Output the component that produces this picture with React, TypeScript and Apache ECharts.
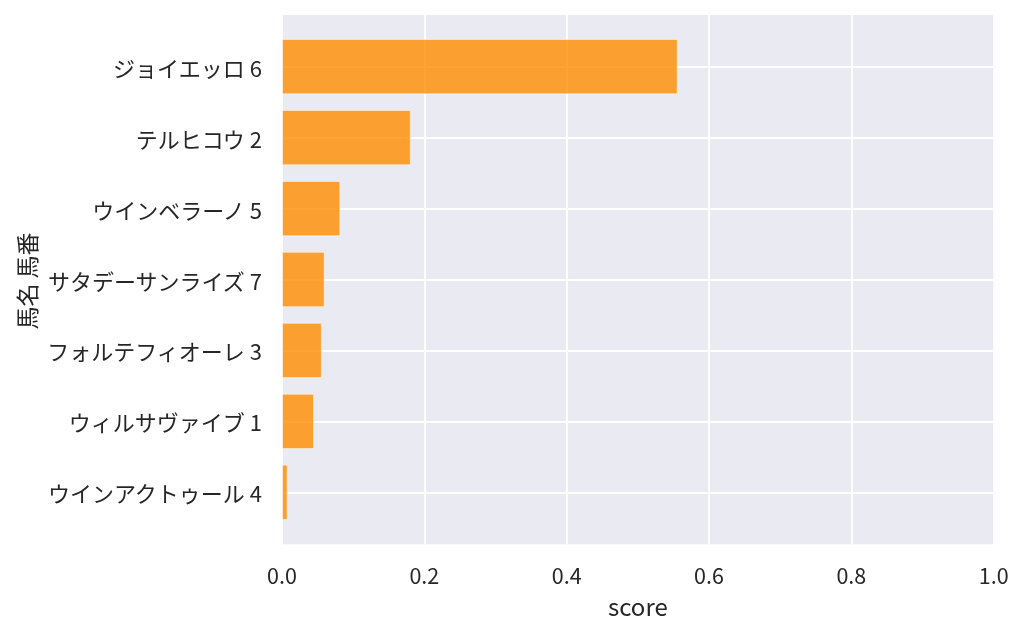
import React, { useEffect, useRef } from "react";
import * as echarts from "echarts";

const horseLabels = [
  "ジョイエッロ 6",
  "テルヒコウ 2",
  "ウインベラーノ 5",
  "サタデーサンライズ 7",
  "フォルテフィオーレ 3",
  "ウィルサヴァイブ 1",
  "ウインアクトゥール 4",
];
const scores = [0.556, 0.181, 0.082, 0.06, 0.056, 0.045, 0.008];
const xTicks = [0, 0.2, 0.4, 0.6, 0.8, 1.0];

const FONT = "Noto Sans CJK JP";
const TEXT = "#262626";

export default function App() {
  const ref = useRef<HTMLDivElement>(null);
  useEffect(() => {
    document.body.style.margin = "0";
    const chart = echarts.init(ref.current!, null, { renderer: "svg" });
    const left = 282;
    const right = 30.3;
    chart.setOption({
      animation: false,
      textStyle: { fontFamily: FONT, color: TEXT },
      grid: [
        {
          left,
          right,
          top: 15,
          bottom: 89.7,
          show: true,
          backgroundColor: "#EAEAF2",
          borderWidth: 0,
        },
        {
          left,
          right,
          top: 66.7,
          bottom: 634 - 492.3,
          show: false,
        },
      ],
      xAxis: [
        {
          type: "value",
          gridIndex: 0,
          min: 0,
          max: 1,
          interval: 0.2,
          axisLine: { show: false },
          axisTick: { show: false },
          splitLine: { show: true, lineStyle: { color: "#ffffff", width: 1.8 } },
          axisLabel: {
            fontFamily: FONT,
            fontSize: 21.5,
            color: TEXT,
            margin: 19,
            formatter: (v: number) => {
              const t = xTicks.find((x) => Math.abs(x - v) < 1e-9);
              return (t ?? v).toFixed(1);
            },
          },
          name: "score",
          nameLocation: "middle",
          nameGap: 49,
          nameTextStyle: { fontFamily: FONT, fontSize: 24, color: TEXT },
        },
        {
          type: "value",
          gridIndex: 1,
          min: 0,
          max: 1,
          show: false,
          splitLine: { show: false },
        },
      ],
      yAxis: [
        {
          type: "value",
          gridIndex: 0,
          min: 0,
          max: 1,
          show: false,
          splitLine: { show: false },
        },
        {
          type: "category",
          gridIndex: 1,
          data: horseLabels,
          inverse: true,
          boundaryGap: false,
          axisLine: { show: false },
          axisTick: { show: false },
          splitLine: { show: true, lineStyle: { color: "#ffffff", width: 1.8 } },
          axisLabel: {
            fontFamily: FONT,
            fontSize: 22,
            color: TEXT,
            margin: 20,
          },
        },
      ],
      graphic: [
        {
          type: "text",
          x: 26,
          y: 281,
          rotation: Math.PI / 2,
          style: {
            text: "馬名 馬番",
            fontFamily: FONT,
            fontSize: 23,
            fill: TEXT,
            align: "center",
            verticalAlign: "middle",
          },
        },
      ],
      series: [
        {
          type: "bar",
          xAxisIndex: 1,
          yAxisIndex: 1,
          data: scores,
          barWidth: "78%",
          clip: false,
          itemStyle: {
            color: "rgba(255,140,0,0.8)",
            borderColor: "rgba(255,255,255,0.5)",
            borderWidth: 1,
          },
        },
      ],
    });
    return () => chart.dispose();
  }, []);
  return (
    <div
      ref={ref}
      style={{ position: "fixed", left: 0, top: 0, width: 1024, height: 634 }}
    />
  );
}
